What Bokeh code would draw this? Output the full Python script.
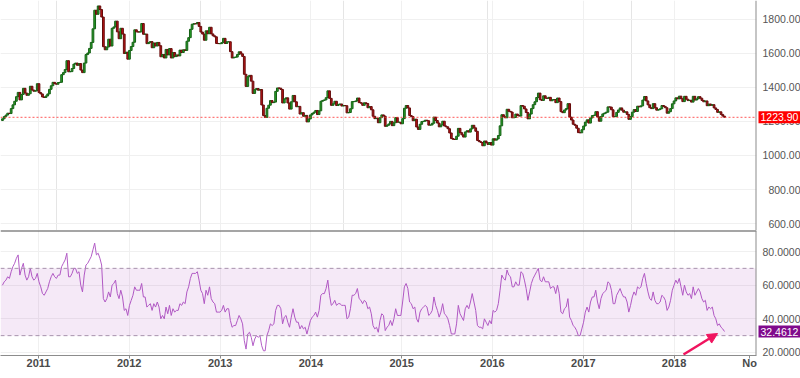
import pandas as pd
from bokeh.plotting import figure
from bokeh.layouts import column
from bokeh.models import (Range1d, FixedTicker, PrintfTickFormatter, Span, BoxAnnotation,
                          Label, Arrow, NormalHead, Grid, ColumnDataSource)
from bokeh.embed import file_html
from bokeh.resources import INLINE

# ---------------- data (weekly gold) ----------------
first_week = "2010-08-09"
first_open = 1205.0

close_2010 = [1215, 1228, 1237, 1248, 1246, 1275, 1297, 1318, 1345, 1370, 1326, 1358, 1394, 1366,
              1353, 1362, 1406, 1384, 1377, 1380, 1421]
close_2011 = [1369, 1361, 1343, 1340, 1349, 1361, 1388, 1409, 1429, 1421, 1418, 1428, 1429, 1474,
              1486, 1504, 1556, 1491, 1492, 1510, 1536, 1542, 1529, 1539, 1501, 1486, 1542, 1592,
              1601, 1628, 1663, 1743, 1852, 1828, 1877, 1856, 1812, 1638, 1620, 1636, 1682, 1642,
              1746, 1754, 1788, 1725, 1685, 1746, 1712, 1598, 1606, 1565]
close_2012 = [1616, 1639, 1664, 1737, 1725, 1724, 1725, 1774, 1711, 1712, 1656, 1662, 1668, 1632,
              1660, 1642, 1663, 1644, 1579, 1592, 1572, 1622, 1590, 1627, 1572, 1604, 1580, 1590,
              1584, 1618, 1604, 1620, 1616, 1670, 1691, 1740, 1770, 1773, 1772, 1780, 1757, 1724,
              1712, 1676, 1731, 1714, 1752, 1713, 1702, 1696, 1657, 1656]
close_2013 = [1656, 1662, 1687, 1657, 1667, 1667, 1609, 1572, 1576, 1577, 1592, 1608, 1596, 1581,
              1476, 1405, 1462, 1470, 1436, 1364, 1386, 1393, 1383, 1387, 1296, 1234, 1223, 1277,
              1295, 1322, 1310, 1313, 1376, 1396, 1395, 1387, 1308, 1332, 1338, 1308, 1272, 1315,
              1352, 1315, 1286, 1288, 1243, 1251, 1230, 1235, 1197, 1214]
close_2014 = [1238, 1247, 1254, 1264, 1240, 1262, 1318, 1323, 1326, 1339, 1379, 1335, 1294, 1303,
              1318, 1293, 1300, 1302, 1290, 1293, 1292, 1250, 1252, 1274, 1316, 1316, 1320, 1337,
              1310, 1307, 1294, 1309, 1305, 1280, 1287, 1268, 1230, 1216, 1218, 1192, 1222, 1238,
              1231, 1171, 1177, 1185, 1200, 1175, 1192, 1222, 1195, 1195]
close_2015 = [1186, 1216, 1277, 1293, 1279, 1234, 1228, 1204, 1213, 1167, 1153, 1183, 1199, 1201,
              1207, 1204, 1178, 1179, 1189, 1225, 1205, 1190, 1168, 1179, 1201, 1173, 1168, 1157,
              1132, 1099, 1095, 1094, 1113, 1159, 1134, 1121, 1108, 1138, 1145, 1137, 1156, 1177,
              1162, 1142, 1088, 1081, 1076, 1057, 1085, 1075, 1065, 1076]
close_2016 = [1061, 1098, 1090, 1097, 1117, 1174, 1239, 1227, 1221, 1271, 1259, 1255, 1221, 1223,
              1243, 1235, 1231, 1293, 1289, 1273, 1252, 1215, 1243, 1275, 1298, 1315, 1340, 1366,
              1327, 1323, 1350, 1336, 1335, 1341, 1321, 1327, 1328, 1310, 1337, 1316, 1257, 1251,
              1267, 1275, 1304, 1225, 1208, 1183, 1177, 1160, 1134, 1133, 1151]
close_2017 = [1173, 1196, 1209, 1190, 1220, 1234, 1236, 1257, 1226, 1201, 1229, 1244, 1249, 1254,
              1285, 1284, 1268, 1228, 1228, 1253, 1267, 1279, 1266, 1254, 1256, 1241, 1212, 1228,
              1254, 1269, 1258, 1289, 1285, 1291, 1325, 1346, 1320, 1297, 1280, 1275, 1304, 1280,
              1266, 1269, 1274, 1293, 1288, 1280, 1248, 1257, 1275, 1303]
close_2018 = [1320, 1338, 1332, 1348, 1333, 1316, 1347, 1330, 1322, 1324, 1313, 1347, 1325, 1332,
              1345, 1336, 1323, 1315, 1320, 1292, 1302, 1294, 1298, 1279, 1270, 1253, 1256, 1241,
              1231, 1223.9]

rsi_2010 = [60, 62, 63, 65, 64, 68, 71, 73, 76, 78, 66, 70, 73, 66, 63, 65, 70, 65, 63, 64, 67]
rsi_2011 = [62, 59, 55, 54, 56, 58, 62, 65, 67, 65, 64, 66, 66, 71, 73, 75, 79, 65, 65, 67, 70, 70,
            67, 68, 60, 56, 66, 72, 73, 75, 77, 81, 85, 78, 79, 76, 72, 52, 50, 52, 56, 53, 60, 61,
            63, 55, 52, 57, 53, 45, 46, 42]
rsi_2012 = [48, 51, 54, 59, 57, 57, 57, 61, 53, 53, 47, 48, 49, 45, 49, 47, 50, 47, 40, 42, 40, 47,
            43, 48, 42, 46, 44, 45, 45, 49, 48, 50, 49, 56, 59, 64, 67, 67, 67, 68, 63, 57, 55, 49,
            57, 54, 59, 52, 50, 49, 44, 44]
rsi_2013 = [44, 45, 48, 44, 46, 46, 39, 35, 36, 36, 39, 42, 40, 37, 27, 22, 31, 32, 29, 24, 28, 30,
            29, 30, 24, 21, 21, 30, 33, 37, 36, 37, 45, 48, 48, 46, 37, 41, 42, 38, 35, 41, 46, 41,
            38, 38, 34, 36, 34, 35, 31, 35]
rsi_2014 = [39, 41, 42, 44, 41, 45, 54, 55, 55, 58, 63, 54, 48, 49, 51, 48, 49, 49, 48, 48, 48, 40,
            41, 46, 54, 54, 55, 58, 52, 51, 49, 51, 50, 46, 47, 43, 36, 34, 35, 32, 39, 43, 42, 33,
            35, 36, 39, 36, 40, 46, 42, 42]
rsi_2015 = [42, 50, 59, 61, 58, 50, 49, 46, 47, 40, 38, 44, 46, 47, 48, 47, 42, 43, 45, 53, 48, 45,
            41, 44, 49, 43, 42, 40, 36, 31, 31, 31, 37, 48, 43, 41, 39, 46, 48, 46, 50, 55, 50, 45,
            36, 35, 35, 34, 40, 38, 36, 39]
rsi_2016 = [37, 45, 44, 45, 49, 57, 66, 64, 63, 69, 66, 65, 59, 59, 62, 60, 60, 68, 67, 63, 58, 51,
            56, 61, 64, 66, 68, 70, 63, 62, 65, 62, 62, 62, 58, 59, 59, 55, 60, 55, 44, 43, 46, 47,
            52, 41, 39, 36, 35, 33, 30, 30, 34]
rsi_2017 = [38, 44, 47, 44, 50, 53, 53, 57, 50, 46, 52, 55, 56, 57, 62, 61, 57, 49, 49, 54, 56, 58,
            55, 53, 53, 50, 44, 48, 53, 56, 54, 59, 58, 59, 64, 67, 61, 56, 52, 51, 56, 51, 49, 49,
            50, 54, 53, 51, 45, 47, 51, 57]
rsi_2018 = [60, 63, 61, 64, 59, 54, 60, 56, 54, 55, 52, 59, 54, 56, 58, 56, 52, 50, 51, 45, 47, 46,
            47, 42, 40, 36, 37, 35, 34, 32.4612]

price_ticks = [600, 800, 1000, 1200, 1400, 1600, 1800]
rsi_ticks = [20, 40, 60, 80]
rsi_bands = [30, 70]
time_tick_dates = ["2011-01-01", "2012-01-01", "2013-01-01", "2014-01-01", "2015-01-01",
                   "2016-01-01", "2017-01-01", "2018-01-01", "2018-11-01"]
time_tick_labels = ["2011", "2012", "2013", "2014", "2015", "2016", "2017", "2018", "No"]

# ---------------- assemble ----------------
close = (close_2010 + close_2011 + close_2012 + close_2013 + close_2014 + close_2015 +
         close_2016 + close_2017 + close_2018)
rsi = (rsi_2010 + rsi_2011 + rsi_2012 + rsi_2013 + rsi_2014 + rsi_2015 + rsi_2016 +
       rsi_2017 + rsi_2018)
opens = [first_open] + close[:-1]

EPOCH = pd.Timestamp("1970-01-01")
DAY = 86400000.0


def ms(t):
    return (pd.Timestamp(t) - EPOCH) / pd.Timedelta(milliseconds=1)


dates = pd.date_range(first_week, periods=len(close), freq="7D")
xms = [ms(d) for d in dates]
tick_ms = [ms(d) for d in time_tick_dates]
year_ms = tick_ms[:-1]

up = [c >= o for o, c in zip(opens, close)]
src = ColumnDataSource(dict(
    x=xms, top=close, bottom=opens,
    fill=["#27a127" if u else "#bb1414" for u in up],
    edge=["#156015" if u else "#640a0a" for u in up],
))

# ---------------- layout constants ----------------
W = 800
RB = 44
H1, H2, H3 = 230, 144, 4
PX_PER_DAY = 0.24855
x_start = ms("2011-01-01") - 38 / PX_PER_DAY * DAY
x_end = x_start + (W - RB) / PX_PER_DAY * DAY
xr = Range1d(x_start, x_end)

FONT = "Liberation Sans"
GRID = "#f0f0f0"
AXIS = "#8c8c8c"


def style_value_axis(ax, ticks, fmt):
    # The value axis sits in the left panel but its labels are pushed across the
    # frame so they end at the page's right edge (as in the reference); it takes no width.
    ax.ticker = FixedTicker(ticks=ticks)
    ax.formatter = PrintfTickFormatter(format=fmt)
    ax.axis_line_color = None
    ax.major_tick_line_color = None
    ax.major_tick_in = 0
    ax.major_tick_out = 0
    ax.minor_tick_line_color = None
    ax.major_label_standoff = -W
    ax.major_label_text_font = FONT
    ax.major_label_text_font_size = "10.5px"
    ax.major_label_text_color = "#555555"


def value_tag(text, y, color):
    # lives in the right side panel, so it is not clipped to the frame
    return Label(x=2, y=y, x_units="screen", y_units="data", text=text,
                 text_color="white", text_font=FONT, text_font_size="10.5px",
                 text_baseline="middle", text_align="left",
                 background_fill_color=color, padding=2)


def axis_edge():
    return Span(location=x_end, dimension="height", line_color=AXIS, line_width=2)


# ---------------- price panel ----------------
p1 = figure(width=W, height=H1, x_range=xr, y_range=Range1d(560, 1909),
            x_axis_location=None, y_axis_location="left", toolbar_location=None,
            output_backend="svg", min_border_left=0, min_border_right=RB,
            min_border_top=0, min_border_bottom=0)
p1.outline_line_color = None
p1.background_fill_color = "white"
style_value_axis(p1.yaxis[0], price_ticks, "%.2f")
p1.ygrid.ticker = FixedTicker(ticks=price_ticks)
p1.ygrid.grid_line_color = GRID
p1.add_layout(Grid(dimension=0, ticker=FixedTicker(ticks=year_ms), grid_line_color=GRID))

p1.vbar(x="x", width=7 * DAY, top="top", bottom="bottom", fill_color="fill",
        line_color="edge", line_width=1, source=src)

p1.add_layout(Span(location=close[-1], dimension="width", line_color="#ff3030",
                   line_width=1, line_dash="2 2", line_alpha=0.8))
p1.add_layout(axis_edge())
p1.add_layout(value_tag(f"{close[-1]:.2f}", close[-1], "#ff0000"), "right")

# ---------------- RSI panel ----------------
p2 = figure(width=W, height=H2, x_range=xr, y_range=Range1d(18.2, 92.5),
            y_axis_location="left", toolbar_location=None, output_backend="svg",
            min_border_left=0, min_border_right=RB, min_border_top=0, min_border_bottom=19)
p2.outline_line_color = None
style_value_axis(p2.yaxis[0], rsi_ticks, "%.4f")
p2.ygrid.ticker = FixedTicker(ticks=rsi_ticks)
p2.ygrid.grid_line_color = GRID
p2.xgrid.ticker = FixedTicker(ticks=year_ms)
p2.xgrid.grid_line_color = GRID

xa = p2.xaxis[0]
xa.ticker = FixedTicker(ticks=tick_ms)
xa.major_label_overrides = {t: lab for t, lab in zip(tick_ms, time_tick_labels)}
xa.axis_line_color = AXIS
xa.major_tick_line_color = AXIS
xa.major_tick_in = 0
xa.major_tick_out = 3
xa.minor_tick_line_color = None
xa.major_label_standoff = -2
xa.major_label_text_font = FONT
xa.major_label_text_font_size = "11px"
xa.major_label_text_font_style = "bold"
xa.major_label_text_color = "#4a4a4a"

p2.add_layout(BoxAnnotation(bottom=rsi_bands[0], top=rsi_bands[1], fill_color="#9c27b0",
                            fill_alpha=0.1, line_color=None))
for lv in rsi_bands:
    p2.add_layout(Span(location=lv, dimension="width", line_color="#a792ad",
                       line_width=1, line_dash="4 3"))

p2.line(xms, rsi, line_color="#b35ec6", line_width=1)

p2.add_layout(Span(location=92.5, dimension="width", line_color="#4d4d4d", line_width=2))
p2.add_layout(axis_edge())

p2.add_layout(Arrow(end=NormalHead(size=10, fill_color="#f0145f", line_color="#f0145f"),
                    x_start=xms[-1] - 165 * DAY, y_start=rsi[-1] - 13.7,
                    x_end=xms[-1] - 28 * DAY, y_end=rsi[-1] - 1.2,
                    line_color="#f0145f", line_width=2.5))

p2.add_layout(value_tag(f"{rsi[-1]:.4f}", rsi[-1], "#800a8c"), "right")

# ---------------- bottom strip ----------------
p3 = figure(width=W, height=H3, toolbar_location=None, output_backend="svg",
            x_axis_location=None, y_axis_location=None, min_border=0)
p3.outline_line_color = None
p3.background_fill_color = "#ececec"
p3.border_fill_color = "#ececec"
p3.grid.visible = False

layout = column(p1, p2, p3, spacing=0)
open("out.html", "w").write(file_html(layout, INLINE))
